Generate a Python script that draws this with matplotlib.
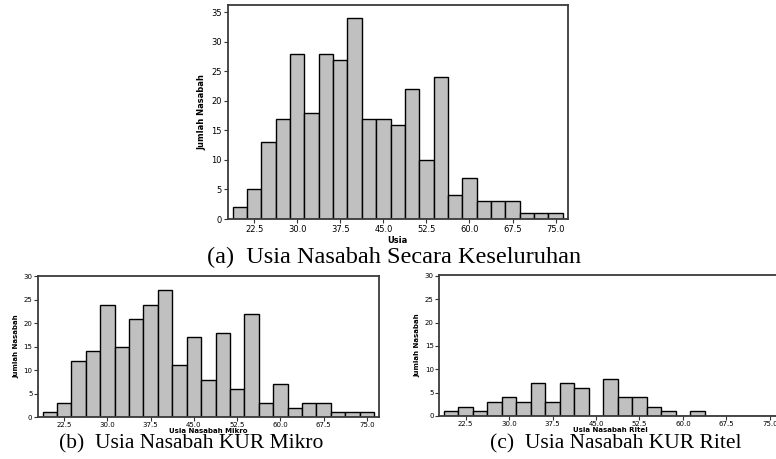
import matplotlib.pyplot as plt

# bin centres (lebar kelas 2.5 tahun)
bin_centers = [20.0, 22.5, 25.0, 27.5, 30.0, 32.5, 35.0, 37.5, 40.0, 42.5, 45.0, 47.5,
               50.0, 52.5, 55.0, 57.5, 60.0, 62.5, 65.0, 67.5, 70.0, 72.5, 75.0]
xticks = [22.5, 30.0, 37.5, 45.0, 52.5, 60.0, 67.5, 75.0]

# jumlah nasabah per kelas
semua = [2, 5, 13, 17, 28, 18, 28, 27, 34, 17, 17, 16, 22, 10, 24, 4, 7, 3, 3, 3, 1, 1, 1]
mikro = [1, 3, 12, 14, 24, 15, 21, 24, 27, 11, 17, 8, 18, 6, 22, 3, 7, 2, 3, 3, 1, 1, 1]
ritel = [1, 2, 1, 3, 4, 3, 7, 3, 7, 6, 0, 8, 4, 4, 2, 1, 0, 1, 0, 0, 0, 0, 0]

W, H = 776, 459
fig = plt.figure(figsize=(W / 100, H / 100), dpi=100)


def px_axes(left, top, right, bottom):
    return fig.add_axes([left / W, 1 - bottom / H, (right - left) / W, (bottom - top) / H])


def histo(ax, counts, ymax, yticks, xlabel, fs, pad, lpad):
    ax.bar(bin_centers, counts, width=2.5, color='#c0c0c0', edgecolor='black', linewidth=1.0)
    ax.set_xlim(17.9, 77.1)
    ax.set_ylim(0, ymax)
    ax.set_xticks(xticks)
    ax.set_xticklabels(['%.1f' % t for t in xticks])
    ax.set_yticks(yticks)
    ax.tick_params(labelsize=fs, length=3, width=0.8, color='#333333', pad=pad)
    for s in ax.spines.values():
        s.set_color('#3a3a3a')
        s.set_linewidth(1.3)
    ax.set_xlabel(xlabel, fontsize=fs, fontweight='bold', labelpad=lpad)
    ax.set_ylabel('Jumlah Nasabah', fontsize=fs, fontweight='bold', labelpad=3)


ax1 = px_axes(227.7, 5, 567.7, 219)
histo(ax1, semua, 36.24, range(0, 36, 5), 'Usia', 6, 1.5, 1)

ax2 = px_axes(37.7, 275.5, 379, 417)
histo(ax2, mikro, 30.2, range(0, 31, 5), 'Usia Nasabah Mikro', 5, 0.8, -0.5)

ax3 = px_axes(439, 275, 782, 416)
histo(ax3, ritel, 30.2, range(0, 31, 5), 'Usia Nasabah Ritel', 5, 0.8, -0.5)

cap = dict(family='Liberation Serif', ha='center', va='center')
fig.text(394 / W, 1 - 257 / H, '(a)  Usia Nasabah Secara Keseluruhan', fontsize=17.5, **cap)
fig.text(191.5 / W, 1 - 443.5 / H, '(b)  Usia Nasabah KUR Mikro', fontsize=15.5, **cap)
fig.text(615.5 / W, 1 - 443.5 / H, '(c)  Usia Nasabah KUR Ritel', fontsize=15.5, **cap)

fig.savefig('out.png', dpi=100)
